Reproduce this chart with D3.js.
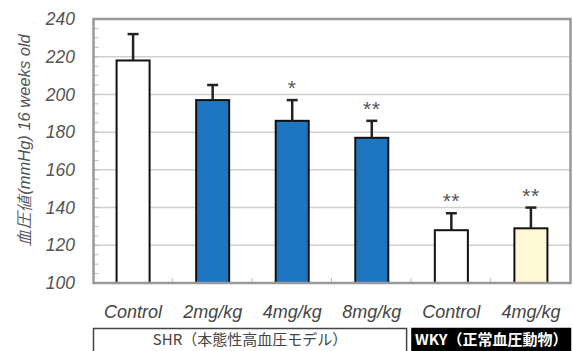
<!DOCTYPE html>
<html>
<head>
<meta charset="utf-8">
<script src="https://cdn.jsdelivr.net/npm/d3@7"></script>
<style>
  body { margin: 0; background: #fff; }
  svg { display: block; font-family: "Liberation Sans", Arial, sans-serif; }
</style>
</head>
<body>
<svg width="573" height="351"></svg>
<script>
// data
const labels = ["Control", "2mg/kg", "4mg/kg", "8mg/kg", "Control", "4mg/kg"];
const means = [218, 197, 186, 177, 128, 129];
const errTops = [232, 205, 197, 186, 137, 140];
const stars = ["", "", "*", "**", "**", "**"];
const fills = ["#ffffff", "#1f76c0", "#1f76c0", "#1f76c0", "#ffffff", "#fff8d4"];
const yTicks = [100, 120, 140, 160, 180, 200, 220, 240];
const groups = [
  { name: "SHR（本態性高血圧モデル）", from: 0, to: 3, dark: false },
  { name: "WKY（正常血圧動物）", from: 4, to: 5, dark: true }
];

const svg = d3.select("svg");
const plotL = 93.5, plotR = 570.5, plotT = 19, plotB = 283;

const x = d3.scaleBand()
    .domain(d3.range(labels.length))
    .range([plotL, plotR])
    .paddingInner(0.585)
    .paddingOuter(0.29);

const y = d3.scaleLinear().domain([100, 240]).range([plotB, plotT]);

// gridlines
svg.append("g")
    .selectAll("line")
    .data(yTicks.slice(1, -1))
    .join("line")
    .attr("x1", plotL).attr("x2", plotR)
    .attr("y1", d => y(d)).attr("y2", d => y(d))
    .attr("stroke", "#d0d0d0").attr("stroke-width", 1.5);

// minor ticks on left axis (inside)
svg.append("g")
    .selectAll("line")
    .data(d3.range(100, 241, 5))
    .join("line")
    .attr("x1", plotL).attr("x2", plotL + 5)
    .attr("y1", d => y(d)).attr("y2", d => y(d))
    .attr("stroke", "#bbb").attr("stroke-width", 1);

// x ticks between bands (inside, going up)
const step = x.step();
svg.append("g")
    .selectAll("line")
    .data(d3.range(1, labels.length))
    .join("line")
    .attr("x1", i => x(i) - step * x.paddingInner() / 2 - 0.5)
    .attr("x2", i => x(i) - step * x.paddingInner() / 2 - 0.5)
    .attr("y1", plotB).attr("y2", plotB - 5)
    .attr("stroke", "#bbb").attr("stroke-width", 1);

// bars
svg.append("g")
    .selectAll("rect")
    .data(means)
    .join("rect")
    .attr("x", (d, i) => x(i))
    .attr("y", d => y(d))
    .attr("width", x.bandwidth())
    .attr("height", d => plotB - y(d))
    .attr("fill", (d, i) => fills[i])
    .attr("stroke", "#111")
    .attr("stroke-width", 2);

// error bars
const eb = svg.append("g").attr("stroke", "#222").attr("stroke-width", 2.5);
eb.selectAll("line.v")
    .data(errTops)
    .join("line")
    .attr("class", "v")
    .attr("x1", (d, i) => x(i) + x.bandwidth() / 2)
    .attr("x2", (d, i) => x(i) + x.bandwidth() / 2)
    .attr("y1", (d, i) => y(means[i]))
    .attr("y2", d => y(d));
eb.selectAll("line.c")
    .data(errTops)
    .join("line")
    .attr("class", "c")
    .attr("x1", (d, i) => x(i) + x.bandwidth() / 2 - 5.5)
    .attr("x2", (d, i) => x(i) + x.bandwidth() / 2 + 5.5)
    .attr("y1", d => y(d))
    .attr("y2", d => y(d));

// significance stars
svg.append("g")
    .selectAll("text")
    .data(stars)
    .join("text")
    .attr("x", (d, i) => x(i) + x.bandwidth() / 2)
    .attr("y", (d, i) => y(errTops[i]) - 5)
    .attr("text-anchor", "middle")
    .attr("font-size", 21)
    .attr("letter-spacing", 0.5)
    .attr("fill", "#555")
    .text(d => d);

// frame
svg.append("rect")
    .attr("x", plotL).attr("y", plotT)
    .attr("width", plotR - plotL).attr("height", plotB - plotT)
    .attr("fill", "none")
    .attr("stroke", "#999")
    .attr("stroke-width", 2.5);

// y tick labels
svg.append("g")
    .selectAll("text")
    .data(yTicks)
    .join("text")
    .attr("x", 75)
    .attr("y", d => y(d))
    .attr("dy", "0.35em")
    .attr("text-anchor", "end")
    .attr("font-size", 17.5)
    .attr("font-style", "italic")
    .attr("fill", "#555")
    .text(d => d);

// y title
svg.append("text")
    .attr("transform", "translate(30,140) rotate(-90)")
    .attr("text-anchor", "middle")
    .attr("font-size", 16.5)
    .attr("font-style", "italic")
    .attr("fill", "#555")
    .text("血圧値(mmHg) 16 weeks old");

// x labels
svg.append("g")
    .selectAll("text")
    .data(labels)
    .join("text")
    .attr("x", (d, i) => x(i) + x.bandwidth() / 2)
    .attr("y", 318)
    .attr("text-anchor", "middle")
    .attr("font-size", 18)
    .attr("font-style", "italic")
    .attr("fill", "#444")
    .text(d => d);

// group boxes
const boxL = d => d.dark ? x(d.from) - step * 0.3 + 1 : plotL;
const boxR = d => d.dark ? plotR : x(d.to) + x.bandwidth() + step * 0.23;
const gb = svg.append("g")
    .selectAll("g")
    .data(groups)
    .join("g");
gb.append("rect")
    .attr("x", boxL)
    .attr("y", 328.5)
    .attr("width", d => boxR(d) - boxL(d))
    .attr("height", 30)
    .attr("fill", d => d.dark ? "#000" : "#fff")
    .attr("stroke", d => d.dark ? "#000" : "#444")
    .attr("stroke-width", 1.5);
gb.append("text")
    .attr("x", d => (boxL(d) + boxR(d)) / 2)
    .attr("y", 345)
    .attr("text-anchor", "middle")
    .attr("font-family", "'Noto Sans CJK JP', sans-serif")
    .attr("font-size", 15)
    .attr("font-weight", d => d.dark ? "bold" : "normal")
    .attr("fill", d => d.dark ? "#fff" : "#444")
    .text(d => d.name);
</script>
</body>
</html>
